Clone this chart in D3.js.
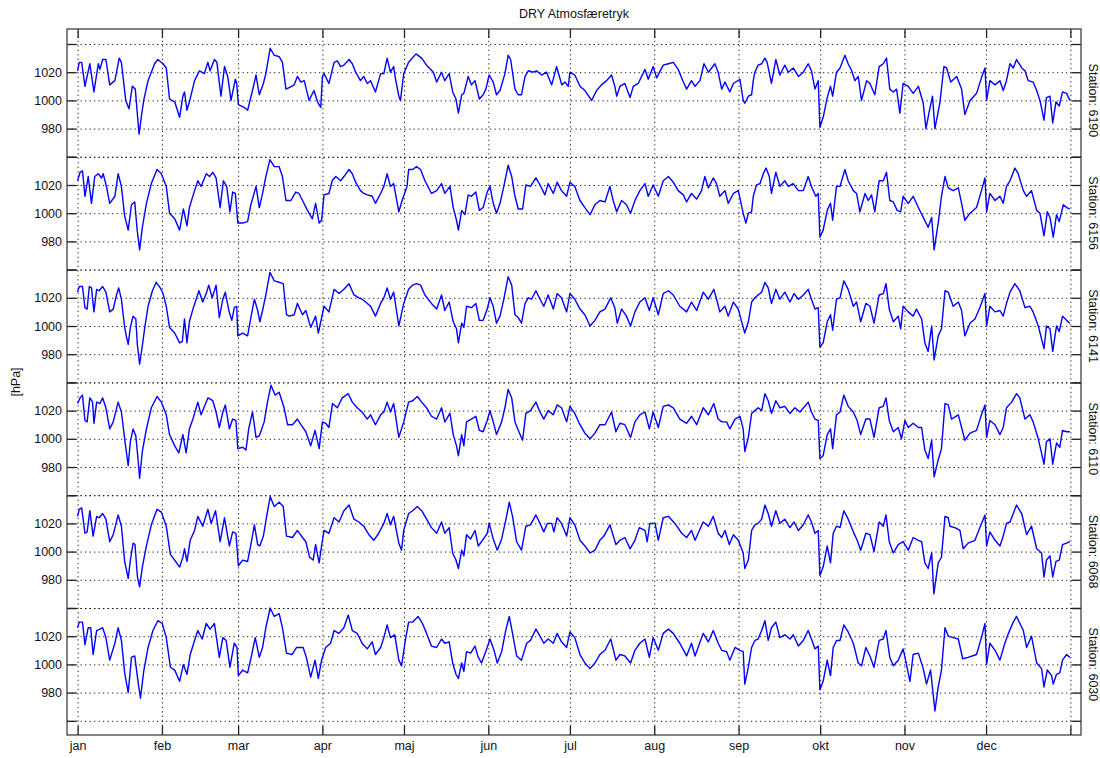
<!DOCTYPE html>
<html>
<head>
<meta charset="utf-8">
<script src="https://cdn.jsdelivr.net/npm/d3@7"></script>
<style>
  body { margin: 0; background: #fff; }
  svg { display: block; font-family: "Liberation Sans", Arial, sans-serif; }
</style>
</head>
<body>
<div id="chart"></div>
<script>
// month ticks (day of year) and labels
const monthStarts = [0, 31, 59, 90, 120, 151, 181, 212, 243, 273, 304, 334, 365];
const monthLabels = ["jan", "feb", "mar", "apr", "maj", "jun", "jul", "aug", "sep", "okt", "nov", "dec", ""];
const yGrid = [960, 980, 1000, 1020, 1040];
const yLabels = [980, 1000, 1020];
const stations = ["6190", "6156", "6141", "6110", "6068", "6030"];

// [day of year, hPa]
const s6190 = [[0,1021],[0.6,1027],[1.5,1027],[2.7,1010],[4.5,1026],[6.0,1006],[7.6,1026],[8.2,1022],[9.2,1029],[10.4,1029],[11.8,1011],[13.7,1014],[15.3,1030],[16.1,1027],[17.7,1000],[18.9,994],[20.1,1010],[21.2,1008],[22.6,976],[23.4,988],[24.3,1000],[25.9,1014],[28.3,1026],[29.5,1029],[31.4,1026],
  [32.6,1023],[33.8,1001],[35.7,999],[37.5,988],[38.7,1003],[39.3,1006],[40.2,993],[41.1,999],[43.0,1014],[44.8,1021],[46.6,1019],[47.9,1027],[48.7,1021],[50.3,1029],[51.2,1027],[52.7,1003],[54.0,1024],[55.2,1017],[56.4,1000],[58.0,1015],[58.5,1012],[59.1,997],
  [61.3,995],[62.5,993],[64.3,1007],[65.6,1018],[66.8,1004],[68.3,1012],[69.2,1019],[70.8,1037],[72.3,1032],[74.1,1031],[75.3,1027],[76.6,1008],[77.8,1009],[79.6,1011],[80.8,1017],[82.1,1013],[83.3,1014],[85.1,1000],[86.9,1007],[88.2,999],[89.4,995],[90.0,1017],
  [90.6,1019],[92.4,1012],[94.3,1027],[95.5,1028],[96.7,1024],[97.9,1025],[99.8,1029],[101.0,1026],[102.2,1020],[104.0,1014],[105.2,1017],[106.5,1012],[107.7,1014],[109.5,1006],[111.4,1019],[112.6,1019],[113.8,1030],[115.0,1020],[116.2,1024],[116.8,1016],[118.1,1003],[118.7,1000],[119.9,1019],[121.7,1027],
  [124.4,1033],[126.5,1030],[128.3,1025],[130.8,1020],[132.0,1013],[133.8,1020],[135.0,1014],[136.6,1019],[137.9,1006],[139.1,1001],[140.0,991],[141.2,1004],[142.0,1005],[143.6,1017],[144.8,1011],[146.1,1014],[147.7,1001],[149.1,1004],[150.1,1008],[151.3,1018],[152.8,1013],[154.0,1004],[155.3,1007],[157.1,1019],[158.3,1032],[159.2,1029],[160.8,1008],[162.0,1004],[163.2,1004],[164.5,1017],[165.7,1021],[167.5,1020],[168.7,1021],[170.6,1018],[172.4,1020],[174.3,1011],[176.1,1024],[178.0,1011],[179.2,1013],[180.4,1010],
  [181.0,1020],[182.8,1018],[184.7,1010],[186.5,1007],[189.0,1000],[190.8,1007],[192.6,1011],[194.5,1014],[196.3,1018],[197.5,1010],[198.2,1003],[199.4,1010],[201.2,1012],[203.1,1002],[204.3,1010],[206.1,1012],[208.6,1022],[209.8,1015],[211.6,1024],[212.9,1016],[215.3,1025],[217.2,1026],[219.0,1027],[220.8,1022],[222.7,1013],[223.9,1008],[225.7,1014],[227.0,1010],[228.8,1014],[230.3,1026],[231.9,1020],[234.3,1026],[235.5,1020],[236.8,1008],[238.0,1013],[239.8,1006],[241.1,1012],[243.5,1015],[244.7,1000],
  [245.3,998],[246.6,1003],[247.8,1004],[248.4,1014],[249.0,1020],[250.2,1025],[251.5,1026],[252.7,1030],[253.5,1027],[255.1,1012],[256.7,1029],[258.2,1018],[260.0,1025],[261.3,1020],[263.1,1023],[265.0,1017],[266.8,1020],[268.6,1026],[269.8,1021],[271.1,1008],[272.3,1014],
  [272.9,981],[274.1,988],[275.6,1002],[276.8,1010],[277.6,1003],[279.0,1020],[280.3,1023],[282.1,1032],[283.3,1026],[284.6,1021],[285.8,1014],[287.0,1017],[288.2,1000],[290.1,1014],[291.3,1012],[293.1,1004],[294.7,1024],[296.2,1026],[297.4,1030],[298.6,1008],[299.9,1006],[301.1,1008],[302.3,991],
  [303.5,1012],[305.4,1010],[307.2,1005],[309.1,1010],[310.9,998],[311.9,980],[313.1,992],[314.3,1003],[315.2,980],[317.0,998],[318.5,1024],[319.5,1023],[321.0,1013],[323.2,1017],[325.0,1008],[326.2,990],[328.1,1000],[330.5,1005],[332.3,1016],[333.6,1023],
  [334.2,1000],[335.4,1014],[337.3,1011],[339.1,1014],[340.3,1007],[341.5,1014],[342.8,1026],[344.0,1023],[345.2,1029],[347.1,1023],[348.3,1021],[349.5,1014],[351.3,1013],[352.6,1007],[353.8,1000],[355.3,986],[356.2,1002],[357.5,1003],[358.5,984],[359.7,999],[360.9,996],[362.1,1006],[363.6,1005],[364.8,1000]];

const s6156 = [[0,1023],[0.9,1029],[1.8,1030],[2.7,1012],[3.9,1026],[5.1,1007],[6.3,1026],[7.6,1028],[8.8,1025],[9.4,1028],[10.6,1019],[11.8,1007],[13.7,1012],[14.9,1028],[16.1,1019],[17.3,998],[18.6,988],[19.8,1006],[21.0,1008],[21.9,988],[22.8,974],[23.8,990],[25.3,1007],[27.1,1021],[29.2,1031],[30.8,1028],
  [32.6,1019],[33.8,1000],[35.7,996],[37.5,988],[38.9,1003],[40.2,991],[41.1,1004],[43.0,1016],[44.2,1023],[45.4,1019],[47.3,1028],[48.5,1026],[49.7,1029],[50.9,1025],[52.4,1004],[53.6,1023],[54.8,1019],[56.0,1001],[57.0,1015],[58.0,1014],[58.9,993],
  [60.7,993],[62.5,994],[63.7,1006],[65.6,1019],[66.8,1004],[68.0,1014],[69.2,1026],[70.7,1038],[72.3,1033],[74.1,1033],[75.3,1026],[76.6,1009],[78.4,1009],[80.2,1015],[81.4,1014],[82.7,1009],[84.5,1002],[86.3,996],[87.5,1007],[88.8,993],[89.7,995],
  [90.6,1013],[92.4,1014],[93.6,1023],[94.9,1026],[96.7,1023],[97.9,1026],[99.8,1031],[101.0,1028],[102.2,1022],[104.0,1016],[105.2,1014],[106.5,1013],[108.3,1012],[109.5,1007],[111.4,1014],[112.6,1019],[113.8,1028],[115.0,1019],[116.2,1021],[118.1,1001],[119.3,1009],[121.1,1019],[121.7,1031],
  [123.2,1031],[124.6,1033],[126.1,1031],[127.7,1023],[130.1,1014],[132.0,1016],[133.8,1021],[135.0,1014],[136.9,1019],[138.1,1004],[139.3,995],[140.0,988],[141.2,1002],[142.4,999],[143.6,1013],[144.8,1012],[146.4,1015],[147.7,1002],[149.1,1004],[150.6,1015],
  [151.6,1019],[152.8,1007],[154.0,1000],[155.3,1007],[156.7,1019],[158.3,1034],[159.6,1026],[160.8,1012],[162.0,1003],[163.6,1003],[164.8,1020],[166.5,1019],[168.5,1025],[170.0,1020],[171.8,1013],[173.0,1021],[174.9,1014],[176.3,1022],[177.9,1016],[179.8,1012],
  [181.0,1022],[182.8,1019],[184.7,1009],[186.5,1004],[188.4,999],[190.2,1006],[192.0,1009],[193.9,1008],[195.7,1019],[196.9,1009],[198.2,1001],[200.0,1009],[201.8,1006],[203.3,1000],[204.9,1009],[206.7,1016],[208.6,1021],[209.8,1012],[211.6,1020],
  [213.5,1012],[215.3,1023],[217.2,1026],[219.0,1022],[220.8,1016],[222.7,1013],[223.9,1008],[225.7,1014],[227.6,1010],[229.4,1016],[230.6,1026],[231.9,1018],[233.7,1025],[234.9,1021],[236.1,1012],[238.0,1016],[239.2,1007],[241.1,1014],[242.9,1016],[244.7,1000],
  [245.7,993],[246.6,1000],[247.8,1001],[248.4,1012],[249.6,1020],[250.9,1021],[252.1,1028],[253.1,1032],[254.3,1026],[255.1,1014],[256.7,1029],[258.2,1019],[260.0,1023],[261.3,1019],[263.1,1021],[265.0,1016],[266.8,1016],[268.6,1026],[269.8,1019],[271.4,1012],[272.3,1014],
  [272.9,983],[274.1,988],[275.6,1002],[276.8,1007],[277.6,995],[279.0,1019],[280.3,1019],[282.1,1031],[283.3,1023],[285.2,1016],[286.4,1014],[287.6,1001],[289.5,1014],[290.7,1009],[291.9,1013],[293.1,1001],[294.7,1023],[296.2,1023],[297.4,1029],[298.6,1009],[299.9,1008],[301.3,1002],[302.6,1001],
  [303.5,1012],[305.4,1007],[307.2,1012],[309.1,1004],[310.9,997],[312.7,990],[314.0,997],[314.9,974],[316.4,993],[317.6,1012],[318.9,1026],[320.1,1018],[321.9,1016],[323.8,1018],[325.0,1007],[326.2,995],[328.1,1000],[330.5,1004],[332.3,1016],[333.6,1025],
  [334.2,1001],[335.4,1014],[337.3,1009],[339.1,1012],[340.3,1007],[341.5,1019],[342.8,1023],[344.6,1032],[345.8,1028],[347.7,1016],[348.9,1012],[350.7,1016],[352.6,1002],[353.8,1000],[355.3,984],[356.5,1001],[357.5,997],[358.7,983],[359.9,999],[360.9,994],[362.4,1006],[363.6,1004],[364.8,1003]];

const s6141 = [[0,1024],[0.6,1028],[1.8,1028],[2.7,1013],[3.5,1012],[4.3,1028],[5.1,1027],[6.0,1010],[7.0,1026],[7.9,1025],[9.2,1028],[10.4,1024],[11.8,1010],[13.1,1012],[14.3,1022],[15.1,1027],[16.1,1019],[17.3,999],[17.9,993],[18.6,987],[19.4,999],[20.4,1007],[21.4,1005],[22.0,986],[22.8,973],[23.8,986],[24.7,999],[25.9,1014],[27.5,1025],[28.9,1031],[30.4,1027],
  [31.4,1023],[32.6,1014],[33.8,999],[35.7,995],[37.5,988],[38.5,989],[39.3,1005],[40.2,988],[41.1,1003],[42.4,1012],[43.6,1019],[44.6,1025],[46.0,1017],[47.3,1023],[48.2,1029],[49.5,1020],[50.9,1029],[52.1,1006],[53.4,1019],[54.3,1024],[55.6,1011],[56.7,1004],[57.6,1013],[58.5,1014],[58.9,993],
  [60.7,995],[62.5,993],[63.7,1006],[65.0,1019],[66.2,1011],[67.0,1003],[68.0,1011],[69.2,1022],[70.7,1038],[72.3,1032],[74.1,1031],[75.6,1030],[76.8,1008],[77.8,1007],[79.6,1008],[80.8,1016],[82.7,1008],[83.9,1011],[85.7,999],[87.5,1007],[88.5,995],[89.4,1003],
  [90.6,1014],[92.4,1010],[94.3,1026],[96.1,1023],[97.9,1026],[99.8,1030],[101.6,1022],[103.4,1020],[104.6,1019],[105.9,1017],[107.7,1014],[109.5,1007],[111.4,1016],[112.6,1020],[113.8,1027],[115.0,1019],[116.2,1024],[118.1,1000],[119.9,1016],[121.7,1026],
  [123.2,1029],[124.6,1030],[126.1,1029],[127.7,1022],[130.1,1016],[132.0,1012],[133.8,1022],[135.0,1011],[136.6,1017],[138.1,1003],[139.3,998],[140.0,988],[141.2,1002],[142.0,999],[143.0,1014],[144.8,1013],[146.4,1016],[147.7,1004],[149.1,1004],[150.6,1012],
  [151.6,1020],[152.8,1014],[154.0,1002],[155.3,1007],[156.7,1019],[158.3,1035],[159.6,1029],[160.8,1008],[162.0,1006],[163.2,1002],[164.5,1016],[165.7,1020],[166.9,1019],[168.5,1025],[170.0,1019],[171.4,1014],[173.0,1022],[174.9,1012],[176.3,1023],[177.9,1020],[179.8,1010],
  [181.0,1023],[182.8,1019],[184.7,1012],[186.5,1008],[188.4,1000],[190.2,1004],[192.0,1010],[193.9,1012],[196.0,1020],[197.5,1013],[198.4,1002],[200.0,1012],[201.8,1007],[203.3,1000],[204.9,1010],[206.7,1017],[208.6,1020],[210.2,1011],[211.6,1020],
  [213.5,1008],[215.3,1023],[217.2,1025],[219.0,1022],[221.4,1014],[223.9,1010],[225.7,1017],[227.6,1011],[230.0,1024],[231.9,1019],[233.9,1026],[235.2,1017],[236.1,1010],[238.0,1014],[239.2,1007],[241.1,1017],[242.9,1012],[244.7,999],
  [245.3,995],[246.6,1003],[247.8,1017],[249.0,1020],[250.2,1022],[251.5,1024],[252.7,1031],[253.9,1027],[255.1,1016],[256.7,1026],[258.2,1019],[260.0,1024],[261.9,1017],[263.4,1023],[265.0,1019],[266.8,1022],[268.6,1026],[269.8,1019],[271.1,1012],[272.3,1013],
  [272.9,985],[274.1,988],[275.6,1003],[276.8,1008],[277.6,997],[279.0,1019],[280.3,1020],[281.7,1032],[283.3,1026],[285.2,1014],[286.4,1017],[287.9,1003],[289.8,1016],[291.3,1014],[292.8,1002],[294.7,1022],[296.2,1023],[297.2,1030],[298.4,1012],[299.9,1003],[301.7,1007],[302.6,998],
  [303.5,1014],[305.4,1010],[307.2,1007],[308.4,1012],[310.3,1005],[311.5,988],[312.7,982],[314.0,1000],[314.9,976],[316.4,993],[317.6,998],[318.9,1025],[320.1,1024],[321.9,1014],[323.8,1017],[325.0,1011],[326.2,993],[328.1,1002],[329.9,1005],[331.7,1013],[333.6,1023],
  [334.2,1000],[335.4,1014],[337.3,1010],[339.1,1011],[340.3,1007],[341.5,1016],[342.8,1024],[344.6,1030],[346.4,1025],[348.3,1013],[350.1,1014],[351.3,1010],[353.2,1000],[355.3,984],[356.2,1000],[357.5,998],[358.5,982],[359.9,1000],[360.9,996],[362.1,1007],[363.6,1004],[364.8,1002]];

const s6110 = [[0,1025],[0.9,1029],[1.8,1031],[2.7,1013],[3.5,1012],[4.5,1029],[5.5,1026],[6.0,1011],[7.0,1026],[8.2,1025],[9.2,1029],[10.4,1022],[11.8,1007],[13.1,1012],[14.9,1026],[16.1,1019],[17.3,1000],[17.9,991],[18.6,981],[19.4,998],[20.4,1007],[21.4,1002],[22.1,988],[22.8,972],[23.8,991],[25.3,1007],[27.1,1022],[29.2,1030],[30.8,1026],
  [32.6,1017],[33.8,1003],[35.7,995],[37.2,990],[38.7,1003],[39.9,990],[41.1,1007],[42.4,1014],[44.2,1026],[45.4,1017],[47.9,1029],[49.7,1027],[50.9,1019],[52.1,1008],[53.4,1019],[54.3,1024],[55.8,1007],[57.0,1014],[58.2,1013],[58.9,993],
  [60.7,994],[61.9,992],[62.9,1007],[64.3,1019],[65.6,1001],[66.8,1002],[68.6,1012],[69.8,1026],[71.1,1038],[72.6,1031],[74.1,1033],[75.9,1022],[77.2,1010],[79.0,1010],[80.8,1014],[82.1,1010],[83.9,1005],[85.7,995],[87.3,1006],[88.8,993],
  [90.0,1012],[91.2,1011],[92.4,1008],[93.7,1025],[95.5,1022],[97.3,1029],[99.5,1032],[101.0,1026],[102.8,1022],[104.6,1019],[106.5,1014],[107.7,1017],[109.5,1010],[111.4,1017],[112.6,1019],[113.8,1026],[115.0,1019],[116.2,1025],[118.1,1001],[119.9,1012],[121.7,1026],
  [123.2,1027],[124.9,1030],[126.5,1026],[128.3,1022],[130.1,1016],[132.0,1014],[133.8,1022],[135.0,1012],[136.9,1018],[138.1,1003],[139.3,995],[140.0,988],[141.2,1003],[142.0,995],[143.0,1012],[144.8,1014],[146.4,1016],[147.7,1006],[149.1,1005],[150.6,1013],
  [151.6,1020],[153.1,1010],[154.0,1003],[155.9,1012],[157.1,1022],[158.3,1035],[159.6,1029],[160.8,1012],[162.0,1006],[163.6,999],[164.8,1018],[166.5,1020],[168.5,1026],[170.0,1019],[171.4,1014],[173.0,1020],[174.9,1017],[176.3,1024],[177.9,1022],[179.8,1012],
  [181.0,1023],[182.8,1018],[184.7,1010],[186.5,1004],[188.4,1000],[190.2,1004],[192.0,1010],[193.9,1010],[196.3,1019],[197.9,1005],[199.4,1011],[201.2,1010],[203.3,1001],[204.9,1012],[206.7,1017],[208.6,1019],[210.2,1007],[211.6,1019],
  [213.5,1008],[215.3,1023],[217.2,1024],[219.0,1022],[221.4,1014],[223.9,1011],[225.7,1016],[227.6,1010],[230.0,1022],[231.9,1017],[233.9,1025],[235.5,1014],[236.8,1012],[238.6,1012],[239.8,1007],[241.7,1014],[243.5,1016],[244.7,1007],
  [245.3,991],[246.6,1001],[247.8,1018],[249.0,1020],[250.2,1022],[251.5,1020],[252.7,1032],[253.9,1027],[255.1,1018],[256.7,1027],[258.2,1022],[260.0,1023],[261.9,1018],[263.7,1022],[265.6,1019],[268.6,1026],[269.8,1019],[271.1,1014],[272.3,1013],
  [272.9,986],[274.1,988],[275.6,1003],[276.8,1007],[277.6,993],[279.0,1017],[280.3,1019],[281.7,1031],[283.3,1023],[285.2,1019],[286.6,1013],[287.9,1003],[289.8,1014],[291.3,1014],[292.8,1001],[294.7,1022],[296.2,1023],[297.2,1029],[298.4,1013],[299.9,1005],[301.7,1008],[302.9,1000],
  [304.2,1013],[305.4,1008],[307.2,1011],[309.1,1008],[310.3,1008],[311.5,992],[312.7,986],[314.0,999],[314.9,973],[316.4,985],[317.6,993],[318.9,1025],[320.1,1024],[321.3,1014],[323.8,1017],[325.0,1008],[326.2,999],[328.1,1004],[330.5,1006],[332.3,1017],[333.6,1024],
  [334.2,1001],[335.4,1013],[337.3,1010],[339.1,1003],[340.3,1008],[341.5,1022],[343.4,1026],[345.2,1032],[346.4,1029],[348.3,1014],[350.1,1017],[351.3,1012],[353.2,1000],[355.3,982],[356.2,998],[357.5,1000],[358.5,982],[359.9,997],[361.1,994],[362.1,1006],[363.6,1005],[364.8,1005]];

const s6068 = [[0,1025],[0.6,1030],[1.5,1031],[2.7,1013],[3.5,1014],[4.5,1029],[5.7,1011],[7.0,1025],[7.9,1024],[9.2,1027],[10.4,1023],[11.8,1007],[13.1,1012],[14.9,1026],[16.1,1018],[17.3,993],[18.6,981],[19.4,994],[20.4,1006],[21.1,1005],[22.0,982],[22.8,975],[23.8,989],[25.3,1004],[27.1,1019],[29.2,1030],[30.8,1028],
  [32.6,1018],[34.1,998],[35.7,994],[37.5,989],[38.7,996],[39.3,1002],[40.2,993],[41.4,1008],[43.0,1015],[44.2,1025],[46.0,1018],[47.9,1030],[49.1,1020],[50.7,1029],[52.4,1007],[54.0,1024],[55.8,1004],[57.0,1014],[58.2,1013],[59.1,990],
  [60.7,994],[62.5,993],[63.7,1005],[65.0,1019],[66.2,1005],[67.0,1004],[68.3,1011],[69.5,1025],[70.8,1039],[72.3,1032],[74.1,1035],[75.6,1032],[76.8,1011],[79.0,1010],[80.8,1015],[82.7,1010],[83.9,1007],[85.3,996],[86.6,994],[87.5,1005],[88.8,992],[89.7,1004],
  [90.6,1015],[92.4,1013],[94.3,1024],[96.1,1021],[97.9,1029],[99.8,1033],[101.6,1023],[103.4,1021],[105.2,1018],[107.1,1012],[108.9,1008],[110.7,1013],[112.6,1020],[113.8,1027],[115.0,1019],[116.2,1025],[118.1,1006],[119.1,1001],[119.9,1015],[121.7,1027],
  [123.2,1029],[124.9,1032],[126.5,1029],[128.3,1023],[130.1,1017],[132.0,1013],[133.8,1021],[135.0,1013],[136.6,1017],[137.9,999],[139.1,994],[140.0,988],[141.2,1001],[142.0,997],[143.0,1012],[144.5,1009],[146.1,1015],[147.3,1004],[148.5,1007],[150.6,1013],
  [151.3,1020],[152.8,1009],[154.3,1001],[155.9,1009],[157.5,1023],[158.7,1035],[159.9,1025],[161.4,1007],[163.2,1001],[164.8,1018],[166.5,1019],[168.5,1026],[170.0,1020],[171.4,1014],[172.7,1020],[174.3,1020],[175.1,1014],[176.3,1024],[177.9,1020],[179.8,1011],
  [181.0,1024],[182.8,1019],[184.7,1008],[186.5,1004],[188.4,999],[190.2,1001],[192.0,1008],[193.5,1011],[195.7,1019],[197.9,1005],[199.4,1008],[201.2,1010],[203.1,1002],[204.9,1008],[206.5,1017],[208.6,1015],[209.4,1007],[210.4,1020],[212.3,1020],
  [213.5,1008],[215.3,1024],[217.2,1025],[219.6,1020],[222.1,1013],[223.9,1010],[225.7,1015],[227.0,1008],[230.0,1021],[231.9,1018],[233.7,1025],[235.5,1013],[236.8,1010],[238.0,1015],[239.6,1005],[241.1,1012],[242.9,1008],[244.7,999],
  [245.3,988],[246.6,994],[247.8,1015],[249.0,1019],[250.2,1020],[251.5,1023],[252.7,1033],[253.9,1027],[255.1,1018],[256.7,1029],[258.2,1020],[260.0,1023],[261.9,1017],[263.4,1021],[265.0,1015],[266.8,1019],[268.6,1026],[269.8,1021],[271.1,1013],[272.3,1015],
  [272.9,983],[274.1,989],[275.6,1004],[276.8,992],[277.8,1013],[279.0,1018],[280.3,1017],[281.7,1029],[283.3,1023],[285.2,1014],[286.6,1008],[287.9,1001],[289.8,1013],[291.3,1012],[292.8,1000],[294.7,1021],[296.2,1018],[297.2,1026],[298.4,1007],[299.9,999],[301.7,1005],
  [303.5,1007],[305.4,1001],[307.2,1010],[309.1,1008],[310.3,1007],[311.5,992],[312.7,988],[314.0,999],[314.8,970],[316.4,992],[317.6,996],[318.9,1025],[320.1,1024],[320.7,1018],[322.5,1017],[324.4,1015],[325.6,1002],[327.4,1006],[329.9,1008],[331.7,1017],[333.6,1026],
  [334.2,1004],[335.4,1014],[337.3,1008],[339.1,1004],[340.3,1011],[341.5,1020],[342.8,1021],[345.2,1033],[347.1,1027],[348.9,1012],[350.7,1018],[352.6,1002],[354.4,999],[355.3,982],[356.2,994],[357.5,997],[358.5,982],[359.7,993],[360.9,994],[362.1,1005],[363.6,1006],[364.8,1007]];

const s6030 = [[0,1026],[0.6,1030],[1.8,1030],[2.7,1014],[3.9,1026],[4.8,1026],[5.7,1007],[7.0,1024],[8.2,1025],[9.2,1026],[10.4,1019],[11.8,1003],[13.7,1015],[14.9,1026],[16.1,1017],[17.3,994],[18.6,980],[19.8,1005],[21.0,1006],[22.2,988],[23.1,976],[24.3,995],[25.9,1012],[27.7,1024],[29.5,1031],[31.1,1029],
  [32.6,1019],[34.1,998],[35.7,996],[37.5,988],[38.9,1000],[40.2,993],[41.4,1007],[43.0,1017],[44.2,1024],[45.8,1018],[47.3,1029],[48.7,1025],[50.3,1029],[52.1,1005],[53.4,1019],[54.6,1017],[56.0,998],[57.6,1015],[58.6,1012],[59.1,992],
  [60.7,996],[62.5,994],[63.7,1004],[65.3,1019],[66.8,1005],[68.0,1012],[69.2,1026],[70.8,1040],[72.3,1034],[74.1,1036],[75.3,1026],[76.8,1008],[78.8,1007],[80.5,1012],[82.9,1012],[84.1,1005],[85.7,991],[87.3,1003],[88.5,990],[89.7,1003],
  [91.2,1012],[93.0,1015],[94.3,1024],[96.1,1022],[97.9,1026],[99.5,1035],[101.0,1024],[102.8,1022],[104.6,1015],[106.5,1011],[108.3,1016],[109.5,1007],[111.4,1012],[112.6,1019],[113.8,1028],[115.0,1019],[116.6,1021],[118.1,1003],[119.1,999],[120.5,1017],[121.7,1030],
  [123.2,1030],[125.2,1034],[126.8,1029],[128.3,1022],[130.1,1013],[132.0,1012],[133.8,1018],[135.0,1015],[136.6,1016],[137.9,1001],[139.1,993],[140.0,990],[141.2,1001],[142.0,995],[143.0,1009],[144.5,1008],[146.1,1013],[147.3,1005],[148.5,1001],[150.6,1012],
  [151.6,1018],[153.1,1010],[154.3,1001],[155.9,1009],[157.5,1025],[158.7,1034],[159.9,1022],[161.4,1006],[163.2,1003],[165.1,1015],[166.5,1017],[168.5,1025],[170.0,1020],[171.4,1015],[173.0,1018],[174.9,1015],[176.3,1022],[177.9,1016],[179.8,1012],
  [181.0,1023],[182.8,1019],[184.7,1007],[186.5,1001],[188.4,997],[190.2,1001],[192.0,1007],[193.9,1010],[196.0,1018],[197.9,1003],[199.4,1007],[201.2,1006],[203.3,1001],[204.9,1010],[206.7,1015],[208.6,1018],[210.2,1005],[211.6,1019],
  [213.5,1010],[215.3,1022],[217.2,1025],[219.0,1022],[221.4,1015],[223.9,1006],[225.7,1015],[227.0,1006],[230.0,1022],[231.9,1016],[233.7,1024],[235.5,1015],[236.8,1010],[238.6,1009],[239.8,1003],[241.7,1012],[243.5,1010],[244.7,1009],
  [245.3,986],[246.6,998],[247.8,1012],[249.0,1017],[250.2,1018],[251.5,1024],[252.7,1031],[253.9,1017],[255.1,1026],[256.7,1030],[258.2,1019],[260.0,1021],[261.9,1018],[263.1,1021],[265.0,1013],[266.8,1017],[268.6,1024],[269.8,1018],[271.1,1011],[272.3,1013],
  [272.9,982],[274.1,988],[275.6,1003],[276.8,992],[277.8,1012],[279.0,1017],[280.3,1017],[281.7,1028],[283.3,1023],[285.2,1015],[287.0,1001],[288.2,999],[289.8,1012],[291.3,1006],[292.8,998],[294.7,1017],[296.2,1018],[297.2,1024],[298.6,1005],[299.9,999],[301.7,1003],
  [303.5,1011],[304.2,1005],[306.0,988],[307.2,1007],[309.1,1008],[310.9,997],[312.1,986],[313.6,996],[315.2,967],[316.4,984],[317.6,996],[318.9,1026],[320.1,1020],[321.9,1019],[323.8,1018],[325.4,1004],[327.4,1005],[330.5,1007],[332.3,1019],[333.6,1029],
  [334.2,1000],[335.4,1015],[337.3,1010],[339.1,1003],[340.9,1015],[342.2,1022],[344.0,1030],[345.2,1034],[347.7,1024],[348.9,1012],[350.7,1020],[352.6,1001],[354.4,997],[355.3,984],[356.5,996],[358.1,992],[358.7,986],[359.9,993],[361.1,994],[362.1,1003],[363.6,1007],[364.8,1005]];

const series = [s6190, s6156, s6141, s6110, s6068, s6030];

// sizes
const width = 1100, height = 758;
const box = { left: 67, right: 1081, top: 29, bottom: 735 };
const panelTop = 44, panelH = 112.8;

const svg = d3.select('#chart')
    .append('svg')
    .attr('width', width)
    .attr('height', height);

// x scale: a few days of padding either side of the year
const xScale = d3.scaleLinear()
    .domain([-3.9, 368.9])
    .range([box.left, box.right]);

// one y scale per station panel, all stacked inside the same axes box
const yScales = stations.map((_, i) => d3.scaleLinear()
    .domain([960, 1040])
    .range([panelTop + (i + 1) * panelH, panelTop + i * panelH]));

const gridGroup = svg.append('g').attr('class', 'grid');

// vertical dotted grid
gridGroup.append('g')
    .attr('transform', 'translate(0,' + box.bottom + ')')
    .call(d3.axisBottom(xScale)
        .tickValues(monthStarts)
        .tickSize(-(box.bottom - box.top))
        .tickFormat(''))
    .call(g => g.select('.domain').remove());

// horizontal dotted grid, one set per panel
yScales.forEach(y => {
    gridGroup.append('g')
        .attr('transform', 'translate(' + box.left + ',0)')
        .call(d3.axisLeft(y)
            .tickValues(yGrid)
            .tickSize(-(box.right - box.left))
            .tickFormat(''))
        .call(g => g.select('.domain').remove());
});

gridGroup.selectAll('line')
    .attr('stroke', '#000')
    .attr('stroke-width', 1)
    .attr('stroke-dasharray', '1.3,3.2')
    .attr('opacity', 0.85);

// lines
const lineGroup = svg.append('g');
series.forEach((data, i) => {
    const line = d3.line()
        .x(d => xScale(d[0]))
        .y(d => yScales[i](d[1]));
    lineGroup.append('path')
        .datum(data)
        .attr('fill', 'none')
        .attr('stroke', '#0000ff')
        .attr('stroke-width', 1.4)
        .attr('stroke-linejoin', 'round')
        .attr('d', line);
});

// axes with inward ticks
const axisGroup = svg.append('g')
    .attr('font-family', '"Liberation Sans", Arial, sans-serif');

const xBottom = axisGroup.append('g')
    .attr('transform', 'translate(0,' + box.bottom + ')')
    .call(d3.axisBottom(xScale)
        .tickValues(monthStarts)
        .tickSize(-9)
        .tickPadding(6)
        .tickFormat((d, i) => monthLabels[i]));

const xTop = axisGroup.append('g')
    .attr('transform', 'translate(0,' + box.top + ')')
    .call(d3.axisTop(xScale)
        .tickValues(monthStarts)
        .tickSize(-9)
        .tickFormat(''));

yScales.forEach(y => {
    axisGroup.append('g')
        .attr('transform', 'translate(' + box.left + ',0)')
        .call(d3.axisLeft(y)
            .tickValues(yGrid)
            .tickSize(-9)
            .tickPadding(5)
            .tickFormat(d => yLabels.includes(d) ? d : ''));
    axisGroup.append('g')
        .attr('transform', 'translate(' + box.right + ',0)')
        .call(d3.axisRight(y)
            .tickValues(yGrid)
            .tickSize(-9)
            .tickFormat(''));
});

axisGroup.selectAll('.domain').remove();
axisGroup.selectAll('.tick line')
    .attr('stroke', '#222')
    .attr('stroke-width', 1.3);
axisGroup.selectAll('.tick text')
    .attr('font-size', 12.5)
    .attr('fill', '#111');

// box
svg.append('rect')
    .attr('x', box.left)
    .attr('y', box.top)
    .attr('width', box.right - box.left)
    .attr('height', box.bottom - box.top)
    .attr('fill', 'none')
    .attr('stroke', '#333')
    .attr('stroke-width', 1.2);

// station labels on the right, reading downward
stations.forEach((s, i) => {
    const cy = yScales[i](1000);
    svg.append('text')
        .attr('transform', 'translate(' + (box.right + 8) + ',' + cy + ') rotate(90)')
        .attr('text-anchor', 'middle')
        .attr('font-size', 12.5)
        .attr('fill', '#111')
        .text('Station: ' + s);
});

// title and y label
svg.append('text')
    .attr('x', (box.left + box.right) / 2)
    .attr('y', 18)
    .attr('text-anchor', 'middle')
    .attr('font-size', 12.5)
    .attr('fill', '#111')
    .text('DRY Atmosfæretryk');

svg.append('text')
    .attr('transform', 'translate(20,' + (box.top + box.bottom) / 2 + ') rotate(-90)')
    .attr('text-anchor', 'middle')
    .attr('font-size', 12.5)
    .attr('fill', '#111')
    .text('[hPa]');
</script>
</body>
</html>
